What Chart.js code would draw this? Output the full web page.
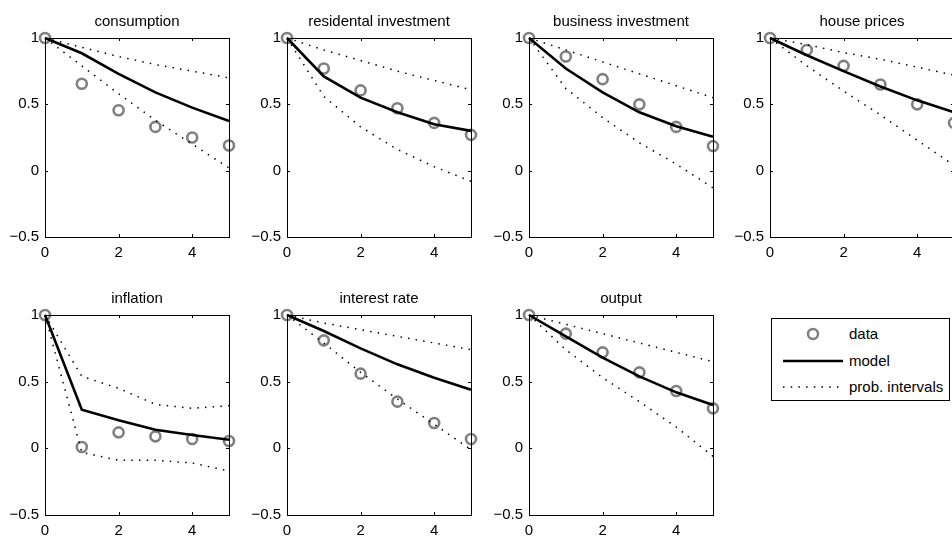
<!DOCTYPE html>
<html>
<head>
<meta charset="utf-8">
<script src="https://cdn.jsdelivr.net/npm/chart.js@4.4.1/dist/chart.umd.min.js"></script>
<style>
  html, body { margin: 0; padding: 0; background: #fff; width: 952px; height: 538px; overflow: hidden; }
  body { position: relative; font-family: "Liberation Sans", Arial, Helvetica, sans-serif; }
  canvas { position: absolute; }
  #legend { position: absolute; left: 771px; top: 318px; width: 179px; height: 83px; border: 1.5px solid #000; box-sizing: border-box; background: #fff; }
  .lg-row { position: absolute; left: 0; height: 20px; width: 100%; }
  .lg-row svg { position: absolute; left: 10px; top: 0; }
  .lg-row span { position: absolute; left: 77px; top: 1px; font-size: 15px; line-height: 18px; color: #000; }
</style>
</head>
<body>
<div id="legend">
  <div class="lg-row" style="top:5px"><svg width="62" height="20"><circle cx="31" cy="10" r="5" fill="none" stroke="#808080" stroke-width="2.5"/></svg><span>data</span></div>
  <div class="lg-row" style="top:32px"><svg width="62" height="20"><line x1="1" y1="10" x2="61" y2="10" stroke="#000" stroke-width="2.5"/></svg><span>model</span></div>
  <div class="lg-row" style="top:58px"><svg width="62" height="20"><line x1="1" y1="10" x2="61" y2="10" stroke="#000" stroke-width="1.5" stroke-dasharray="1.5 6.2"/></svg><span>prob. intervals</span></div>
</div>
<script>
// ---------------- data ----------------
const periods = [0, 1, 2, 3, 4, 5];
const xTickValues = [0, 2, 4];
const yTickValues = [-0.5, 0, 0.5, 1];
const panelTitles = ["consumption", "residental investment", "business investment", "house prices",
                     "inflation", "interest rate", "output"];

const consumptionData  = [1, 0.655, 0.455, 0.33, 0.25, 0.19];
const consumptionModel = [1, 0.885, 0.73, 0.59, 0.475, 0.375];
const consumptionUpper = [1, 0.93, 0.86, 0.80, 0.75, 0.70];
const consumptionLower = [1, 0.79, 0.58, 0.38, 0.20, 0.02];

const resInvData  = [1, 0.77, 0.605, 0.47, 0.36, 0.27];
const resInvModel = [1, 0.71, 0.55, 0.44, 0.35, 0.30];
const resInvUpper = [1, 0.91, 0.83, 0.75, 0.68, 0.61];
const resInvLower = [1, 0.56, 0.33, 0.16, 0.03, -0.08];

const busInvData  = [1, 0.86, 0.69, 0.50, 0.33, 0.185];
const busInvModel = [1, 0.77, 0.59, 0.44, 0.335, 0.255];
const busInvUpper = [1, 0.91, 0.82, 0.73, 0.64, 0.55];
const busInvLower = [1, 0.62, 0.40, 0.21, 0.05, -0.13];

const housePriceData  = [1, 0.91, 0.79, 0.65, 0.50, 0.36];
const housePriceModel = [1, 0.87, 0.75, 0.635, 0.53, 0.44];
const housePriceUpper = [1, 0.95, 0.89, 0.84, 0.78, 0.72];
const housePriceLower = [1, 0.79, 0.60, 0.42, 0.23, 0.04];

const inflationData  = [1, 0.01, 0.12, 0.09, 0.07, 0.055];
const inflationModel = [1, 0.29, 0.21, 0.14, 0.10, 0.065];
const inflationUpper = [1, 0.54, 0.45, 0.33, 0.30, 0.32];
const inflationLower = [1, -0.03, -0.09, -0.09, -0.11, -0.17];

const interestData  = [1, 0.81, 0.56, 0.35, 0.19, 0.07];
const interestModel = [1, 0.88, 0.75, 0.63, 0.53, 0.44];
const interestUpper = [1, 0.94, 0.89, 0.84, 0.79, 0.74];
const interestLower = [1, 0.79, 0.57, 0.37, 0.18, -0.01];

const outputData  = [1, 0.86, 0.72, 0.57, 0.43, 0.30];
const outputModel = [1, 0.84, 0.68, 0.54, 0.42, 0.325];
const outputUpper = [1, 0.93, 0.86, 0.79, 0.72, 0.65];
const outputLower = [1, 0.74, 0.53, 0.35, 0.16, -0.06];

const panelSeries = [
  [consumptionData, consumptionModel, consumptionUpper, consumptionLower],
  [resInvData, resInvModel, resInvUpper, resInvLower],
  [busInvData, busInvModel, busInvUpper, busInvLower],
  [housePriceData, housePriceModel, housePriceUpper, housePriceLower],
  [inflationData, inflationModel, inflationUpper, inflationLower],
  [interestData, interestModel, interestUpper, interestLower],
  [outputData, outputModel, outputUpper, outputLower]
];

// ---------------- layout ----------------
const FONT = '"Liberation Sans", Arial, Helvetica, sans-serif';
const FONT_SIZE = 15;
const colLefts = [45, 287, 529, 770];
const rowTops = [38, 315];
const rowHeights = [199, 200];
const plotW = 184;
const padL = 45, padT = 38, padR = 12, padB = 30;

const toPts = arr => periods.map((p, i) => ({ x: p, y: arr[i] }));

const framePlugin = {
  id: 'frame',
  afterDatasetsDraw(chart, args, opts) {
    const ctx = chart.ctx, a = chart.chartArea;
    const xs = chart.scales.x, ys = chart.scales.y;
    ctx.save();
    ctx.strokeStyle = '#000';
    ctx.lineWidth = 1;
    ctx.strokeRect(Math.round(a.left) + 0.5, Math.round(a.top) + 0.5,
                   Math.round(a.right - a.left), Math.round(a.bottom - a.top));
    const tl = 3;
    ctx.beginPath();
    xTickValues.forEach(v => {
      const px = Math.round(xs.getPixelForValue(v)) + 0.5;
      ctx.moveTo(px, a.bottom); ctx.lineTo(px, a.bottom - tl);
      ctx.moveTo(px, a.top); ctx.lineTo(px, a.top + tl);
    });
    yTickValues.forEach(v => {
      const py = Math.round(ys.getPixelForValue(v)) + 0.5;
      ctx.moveTo(a.left, py); ctx.lineTo(a.left + tl, py);
      ctx.moveTo(a.right, py); ctx.lineTo(a.right - tl, py);
    });
    ctx.stroke();
    ctx.fillStyle = '#000';
    ctx.font = FONT_SIZE + 'px ' + FONT;
    ctx.textAlign = 'center';
    ctx.textBaseline = 'alphabetic';
    ctx.fillText(opts.text, (a.left + a.right) / 2, a.top - 12);
    ctx.restore();
  }
};

panelSeries.forEach((series, idx) => {
  const row = Math.floor(idx / 4), col = idx % 4;
  const H = rowHeights[row];
  const cv = document.createElement('canvas');
  const w = padL + plotW + padR, h = padT + H + padB;
  cv.width = w; cv.height = h;
  cv.style.width = w + 'px'; cv.style.height = h + 'px';
  cv.style.left = (colLefts[col] - padL) + 'px';
  cv.style.top = (rowTops[row] - padT) + 'px';
  document.body.appendChild(cv);
  const [dataS, modelS, upperS, lowerS] = series;
  new Chart(cv, {
    type: 'line',
    data: {
      datasets: [
        { label: 'data', data: toPts(dataS), showLine: false, pointRadius: 5, pointHoverRadius: 5,
          pointBorderWidth: 2.6, pointBorderColor: '#808080', pointBackgroundColor: 'rgba(0,0,0,0)',
          borderColor: '#808080', order: 3, clip: false },
        { label: 'model', data: toPts(modelS), borderColor: '#000', borderWidth: 2.6, pointRadius: 0,
          tension: 0, order: 1, clip: false },
        { label: 'upper', data: toPts(upperS), borderColor: '#000', borderWidth: 1.5, borderDash: [1.5, 6.2],
          pointRadius: 0, tension: 0, order: 2, clip: false },
        { label: 'lower', data: toPts(lowerS), borderColor: '#000', borderWidth: 1.5, borderDash: [1.5, 6.2],
          pointRadius: 0, tension: 0, order: 2, clip: false }
      ]
    },
    options: {
      responsive: false,
      animation: false,
      devicePixelRatio: 1,
      events: [],
      layout: { padding: { top: padT, right: padR, bottom: 0, left: 0 } },
      plugins: { legend: { display: false }, tooltip: { enabled: false }, title: { display: false },
                 frame: { text: panelTitles[idx] } },
      scales: {
        x: {
          type: 'linear', min: 0, max: 5,
          grid: { display: false, drawTicks: false },
          border: { display: false },
          afterBuildTicks: s => { s.ticks = xTickValues.map(v => ({ value: v })); },
          afterFit: s => { s.height = padB; },
          ticks: { color: '#000', padding: 7, maxRotation: 0, font: { family: FONT, size: FONT_SIZE },
                   callback: v => String(v) }
        },
        y: {
          type: 'linear', min: -0.5, max: 1,
          grid: { display: false, drawTicks: false },
          border: { display: false },
          afterBuildTicks: s => { s.ticks = yTickValues.map(v => ({ value: v })); },
          afterFit: s => { s.width = padL; },
          ticks: { color: '#000', padding: 6, font: { family: FONT, size: FONT_SIZE },
                   callback: v => (v < 0 ? '\u2212' + Math.abs(v) : String(v)) }
        }
      }
    },
    plugins: [framePlugin]
  });
});
</script>
</body>
</html>
